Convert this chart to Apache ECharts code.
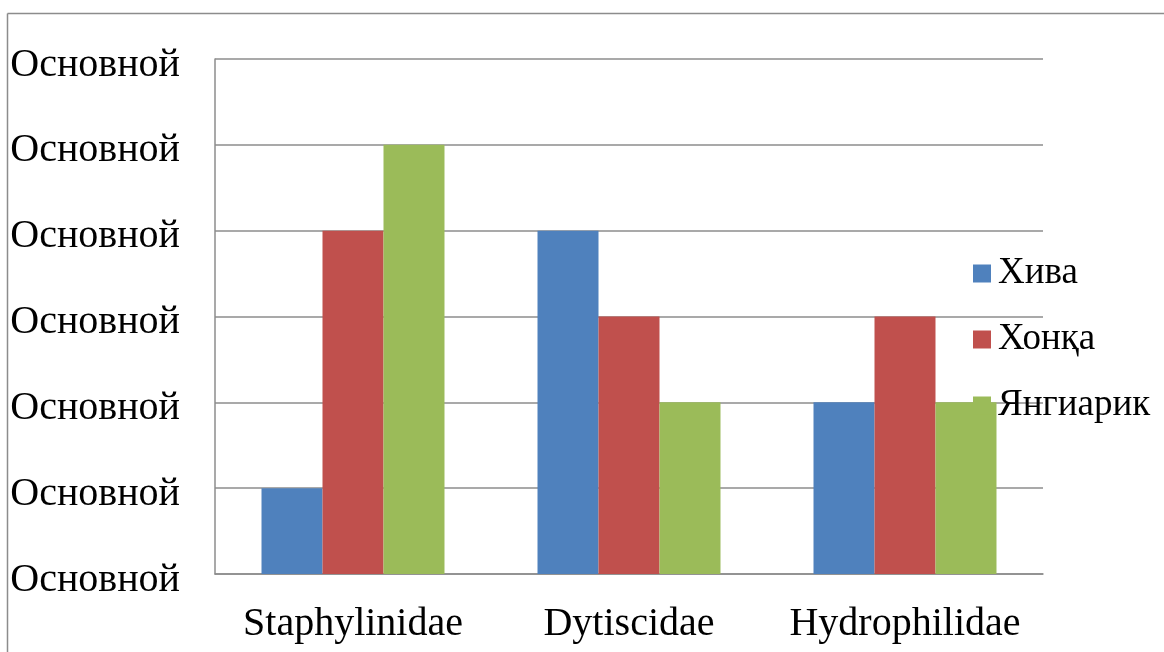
<!DOCTYPE html>
<html><head><meta charset="utf-8">
<script src="https://cdn.jsdelivr.net/npm/echarts@6/dist/echarts.min.js"></script>
<style>html,body{margin:0;padding:0;background:#fff}#c{width:1164px;height:652px}</style>
</head><body><div id="c"></div>
<script>
const categories = ['Staphylinidae', 'Dytiscidae', 'Hydrophilidae'];
const seriesNames = ['Хива', 'Хонқа', 'Янгиарик'];
const khiva = [1, 4, 2];
const khonka = [4, 3, 3];
const yangiarik = [5, 2, 2];
const yTickLabel = 'Основной';
const colors = ['#4F81BD', '#C0504D', '#9BBB59'];
const font = '"Liberation Serif", "DejaVu Serif", serif';
const chart = echarts.init(document.getElementById('c'), null, {renderer: 'canvas'});
const values = [khiva, khonka, yangiarik];
chart.setOption({
  animation: false,
  color: colors,
  graphic: [
    {type: 'line', shape: {x1: 7.5, y1: 13.5, x2: 1164, y2: 13.5}, style: {stroke: '#8c8c8c', lineWidth: 1.5}, z: 0},
    {type: 'line', shape: {x1: 7.5, y1: 13.5, x2: 7.5, y2: 652}, style: {stroke: '#8c8c8c', lineWidth: 1.5}, z: 0}
  ],
  grid: {left: 215, right: 121, top: 59, bottom: 78, containLabel: false},
  legend: {
    orient: 'vertical', left: 968, top: 250, itemWidth: 18, itemHeight: 18, itemGap: 29,
    icon: 'rect',
    textStyle: {fontFamily: font, fontSize: 37, color: '#000', padding: [0, 0, 0, 2]},
    data: seriesNames
  },
  xAxis: {
    type: 'category', data: categories,
    axisLine: {show: true, lineStyle: {color: '#8c8c8c', width: 1.5}},
    axisTick: {show: false},
    axisLabel: {fontFamily: font, fontSize: 40, color: '#000', margin: 30, interval: 0}
  },
  yAxis: {
    type: 'value', min: 0, max: 6, interval: 1,
    axisLine: {show: true, lineStyle: {color: '#8c8c8c', width: 1.5}},
    axisTick: {show: false},
    splitLine: {lineStyle: {color: '#8c8c8c', width: 1.5}},
    axisLabel: {fontFamily: font, fontSize: 40, color: '#000', margin: 35, verticalAlign: 'top', lineHeight: 12, formatter: () => yTickLabel}
  },
  series: seriesNames.map((n, i) => ({
    name: n, type: 'bar', data: values[i], barGap: '0%', barCategoryGap: '33.7%', z: 1
  }))
});
</script></body></html>
